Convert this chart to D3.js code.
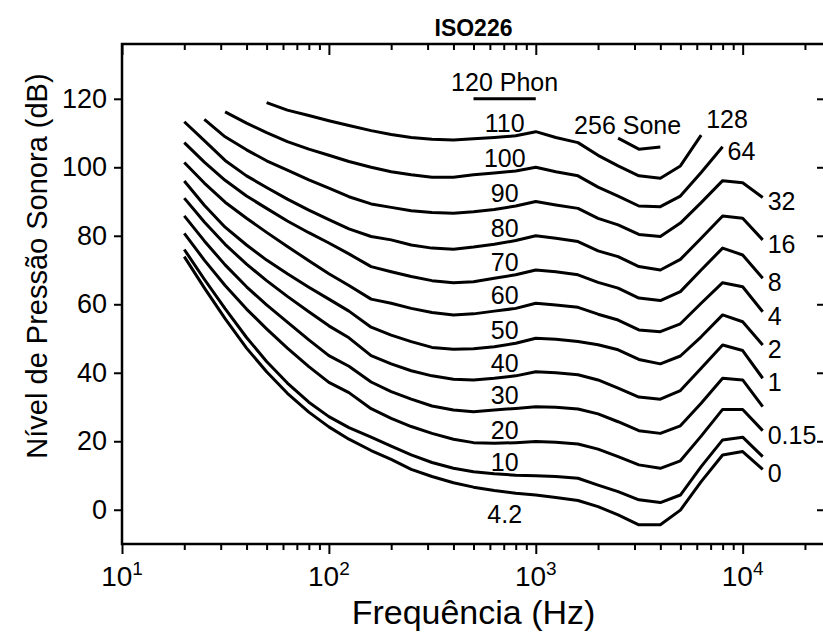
<!DOCTYPE html>
<html>
<head>
<meta charset="utf-8">
<script src="https://cdn.jsdelivr.net/npm/d3@7"></script>
<style>
  body { margin: 0; background: #fff; }
  svg { display: block; font-family: "Liberation Sans", Arial, Helvetica, sans-serif; }
</style>
</head>
<body>
<svg id="chart"></svg>
<script>
// third-octave frequencies (Hz)
const freqs = [20, 25, 31.5, 40, 50, 63, 80, 100, 125, 160, 200, 250, 315, 400, 500, 630, 800,
               1000, 1250, 1600, 2000, 2500, 3150, 4000, 5000, 6300, 8000, 10000, 12500];

// sound pressure level (dB) of each contour
const phon110 = [null, null, null, null, 118.9, 116.7, 115.1, 113.6, 112.2, 110.7, 109.6, 108.7, 108.2, 108.0, 108.3, 108.7, 109.2, 110.4, 108.7, 107.2, 103.5, 100.4, 97.5, 96.8, 100.4, 109.4, null, null, null];
const phon100 = [null, null, 116.2, 112.9, 110.1, 107.5, 105.3, 103.5, 101.7, 100.0, 98.7, 97.8, 97.1, 97.1, 97.8, 98.3, 98.9, 100.0, 98.7, 97.5, 94.2, 91.6, 88.7, 88.5, 91.6, 98.5, 106.0, null, null];
const phon90 = [null, 114.0, 108.9, 105.1, 101.9, 99.2, 96.3, 93.9, 91.4, 89.3, 88.3, 87.3, 86.8, 86.6, 87.0, 87.7, 88.7, 90.0, 89.0, 88.0, 85.1, 83.2, 80.4, 79.8, 83.7, 89.7, 96.1, 95.5, 91.2];
const phon80 = [113.3, 107.8, 102.0, 97.5, 94.1, 90.7, 87.5, 84.7, 82.0, 79.8, 78.8, 77.3, 76.4, 76.1, 76.7, 77.5, 78.6, 80.0, 79.3, 78.3, 75.6, 73.9, 71.0, 70.0, 73.1, 79.3, 85.8, 85.1, 78.8];
const phon70 = [107.2, 101.5, 96.2, 91.6, 88.0, 84.3, 80.9, 77.9, 74.7, 71.0, 69.5, 68.1, 66.9, 66.3, 66.6, 67.6, 68.6, 70.0, 69.5, 68.6, 66.4, 64.7, 61.8, 61.1, 63.7, 70.0, 76.4, 74.4, 67.6];
const phon60 = [101.4, 95.4, 89.8, 85.1, 81.0, 76.9, 72.7, 68.9, 65.5, 61.5, 60.3, 58.8, 57.6, 56.9, 57.2, 58.0, 58.8, 60.3, 59.8, 59.1, 57.1, 55.4, 52.5, 52.0, 54.3, 60.3, 66.3, 65.1, 57.8];
const phon50 = [96.0, 88.9, 82.5, 77.3, 72.9, 68.9, 65.0, 61.5, 58.0, 53.3, 51.0, 49.1, 47.4, 46.9, 47.0, 47.6, 48.6, 50.1, 49.8, 49.1, 48.2, 46.7, 43.9, 42.6, 44.9, 50.5, 56.9, 54.9, 48.1];
const phon40 = [91.0, 84.0, 77.5, 71.7, 66.9, 62.3, 57.8, 53.7, 50.2, 45.0, 42.6, 40.6, 39.1, 38.1, 37.9, 38.4, 39.1, 40.3, 40.0, 39.4, 37.9, 35.5, 32.9, 32.3, 34.8, 41.3, 48.1, 46.5, 38.4];
const phon30 = [85.8, 78.5, 71.5, 65.1, 59.8, 54.8, 49.6, 45.0, 41.9, 37.3, 34.5, 32.3, 30.3, 29.1, 28.6, 29.1, 29.6, 30.1, 29.9, 29.4, 28.0, 25.7, 23.1, 22.3, 24.5, 31.1, 38.4, 37.9, 30.1];
const phon20 = [80.7, 72.9, 65.5, 58.6, 52.8, 47.2, 41.8, 37.2, 34.2, 29.5, 26.7, 24.3, 22.3, 20.6, 19.6, 19.4, 19.6, 19.9, 19.7, 19.2, 17.7, 15.5, 13.1, 12.1, 14.3, 21.5, 29.3, 29.3, 23.1];
const phon10 = [76.0, 67.3, 58.7, 50.3, 43.3, 37.0, 31.4, 27.2, 24.0, 21.2, 18.6, 16.0, 13.8, 12.1, 11.1, 10.5, 10.1, 9.9, 9.7, 9.2, 7.2, 5.3, 2.9, 2.1, 4.3, 12.6, 20.4, 21.2, 15.5];
const phon4 = [73.9, 64.8, 55.8, 47.2, 40.3, 34.0, 28.5, 24.2, 20.6, 17.3, 14.7, 11.8, 9.7, 7.9, 6.6, 5.6, 4.8, 4.3, 3.6, 2.7, 0.9, -1.5, -4.4, -4.4, -0.1, 8.2, 16.0, 17.0, 11.8];

const contours = [phon110, phon100, phon90, phon80, phon70, phon60, phon50, phon40, phon30, phon20, phon10, phon4];
const phonLabels = ["110", "100", "90", "80", "70", "60", "50", "40", "30", "20", "10", "4.2"];
const soneLabels = ["128", "64", "32", "16", "8", "4", "2", "1", null, "0.15", null, "0"];

// the two pieces of the 120 phon contour
const phon120Freq = [500, 1000];
const phon120Db = [120, 120];
const sone256Freq = [2500, 3150, 4000];
const sone256Db = [108.5, 105.3, 105.9];

const yTicks = [0, 20, 40, 60, 80, 100, 120];
const xMajor = [10, 100, 1000, 10000];
const xMinor = [20, 30, 40, 50, 60, 70, 80, 90, 200, 300, 400, 500, 600, 700, 800, 900,
                2000, 3000, 4000, 5000, 6000, 7000, 8000, 9000, 20000];

const width = 823, height = 634;
const plotLeft = 122, plotRight = 825, plotTop = 44, plotBottom = 544;

const svg = d3.select("#chart")
    .attr("width", width)
    .attr("height", height);

const x = d3.scaleLog().domain([10, 25000]).range([plotLeft, plotRight]);
const y = d3.scaleLinear().domain([-10, 136]).range([plotBottom, plotTop]);

// axes (ticks only, the frame is drawn as a rect)
function tickAxis(axis, tx, ty) {
    const g = svg.append("g")
        .attr("transform", `translate(${tx},${ty})`)
        .call(axis);
    g.select(".domain").remove();
    g.selectAll(".tick line").attr("stroke", "#000").attr("stroke-width", 2);
    return g;
}

tickAxis(d3.axisBottom(x).tickValues(xMajor).tickSize(10).tickFormat(""), 0, plotBottom);
tickAxis(d3.axisBottom(x).tickValues(xMinor).tickSize(6).tickFormat(""), 0, plotBottom);
tickAxis(d3.axisTop(x).tickValues(xMajor).tickSize(-11).tickFormat(""), 0, plotTop);
tickAxis(d3.axisTop(x).tickValues(xMinor).tickSize(-6).tickFormat(""), 0, plotTop);

const yAxis = tickAxis(d3.axisLeft(y).tickValues(yTicks).tickSize(8).tickPadding(7), plotLeft, 0);
yAxis.selectAll(".tick text")
    .attr("fill", "#000")
    .style("font-size", "27px")
    .style("font-family", "'Liberation Sans', Arial, sans-serif");
tickAxis(d3.axisRight(y).tickValues(yTicks).tickSize(-8).tickFormat(""), plotRight, 0);

// x tick labels 10^n
const xLab = svg.append("g").selectAll("text")
    .data(xMajor)
    .join("text")
    .attr("x", d => x(d))
    .attr("y", 586)
    .attr("text-anchor", "middle")
    .style("font-size", "28px");
xLab.append("tspan").text("10");
xLab.append("tspan")
    .attr("dy", -11)
    .style("font-size", "19px")
    .text(d => Math.round(Math.log10(d)));

// frame
svg.append("rect")
    .attr("x", plotLeft)
    .attr("y", plotTop)
    .attr("width", plotRight - plotLeft)
    .attr("height", plotBottom - plotTop)
    .attr("fill", "none")
    .attr("stroke", "#000")
    .attr("stroke-width", 2.5);

// contours
const line = d3.line()
    .defined(d => d[1] !== null)
    .x(d => x(d[0]))
    .y(d => y(d[1]));

const curveG = svg.append("g")
    .attr("fill", "none")
    .attr("stroke", "#000")
    .attr("stroke-width", 3)
    .attr("stroke-linejoin", "round");

curveG.selectAll("path")
    .data(contours)
    .join("path")
    .attr("d", vals => line(freqs.map((f, i) => [f, vals[i]])));

curveG.append("path").attr("d", line(phon120Freq.map((f, i) => [f, phon120Db[i]])));
curveG.append("path").attr("d", line(sone256Freq.map((f, i) => [f, sone256Db[i]])));

// labels
const labelG = svg.append("g").style("font-size", "25px");
const i800 = freqs.indexOf(800);

labelG.selectAll(".phon")
    .data(contours)
    .join("text")
    .attr("class", "phon")
    .attr("text-anchor", "middle")
    .attr("x", x(708))
    .attr("y", (vals, i) => y(vals[i800]) + (i === contours.length - 1 ? 30 : -4))
    .text((vals, i) => phonLabels[i]);

contours.forEach((vals, i) => {
    if (!soneLabels[i]) return;
    let last = vals.length - 1;
    while (vals[last] === null) last--;
    labelG.append("text")
        .attr("x", x(freqs[last]) + 5)
        .attr("y", y(vals[last]) + (i === 0 ? -7 : 13))
        .text(soneLabels[i]);
});

labelG.append("text")
    .attr("text-anchor", "middle")
    .attr("x", (x(phon120Freq[0]) + x(phon120Freq[1])) / 2)
    .attr("y", y(phon120Db[0]) - 8)
    .text("120 Phon");

labelG.append("text")
    .attr("x", x(sone256Freq[0]) - 44)
    .attr("y", y(sone256Db[0]) - 4)
    .text("256 Sone");

// titles
svg.append("text")
    .attr("x", (plotLeft + plotRight) / 2)
    .attr("y", 36)
    .attr("text-anchor", "middle")
    .style("font-size", "23px")
    .style("font-weight", "bold")
    .text("ISO226");

svg.append("text")
    .attr("x", (plotLeft + plotRight) / 2)
    .attr("y", 624)
    .attr("text-anchor", "middle")
    .style("font-size", "34px")
    .text("Frequência (Hz)");

svg.append("text")
    .attr("transform", "translate(47,266) rotate(-90)")
    .attr("text-anchor", "middle")
    .style("font-size", "29px")
    .text("Nível de Pressão Sonora (dB)");
</script>
</body>
</html>
